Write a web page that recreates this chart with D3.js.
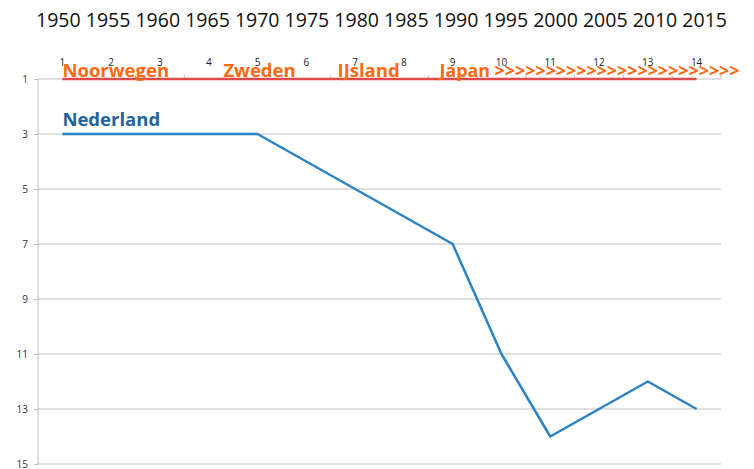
<!doctype html>
<html>
  <head>
    <script src="https://cdnjs.cloudflare.com/ajax/libs/d3/7.8.5/d3.min.js"></script>
    <style>
      body { margin: 0; background: #fff; }
      svg { display: block; }
      .grid line { stroke: #bfbfbf; stroke-width: 1; }
      .axis path, .axis line { stroke: #bfbfbf; }
      .axis text { font-family: "Open Sans", sans-serif; font-size: 10px; fill: #333; }
      .years { font-family: "Open Sans", sans-serif; font-size: 19.5px; fill: #111; }
      .catnum { font-family: "Open Sans", sans-serif; font-size: 10px; fill: #222; }
      .country { font-family: "Open Sans", sans-serif; font-weight: bold; font-size: 18.5px; fill: #ff6a10; }
      .series-label { font-family: "Open Sans", sans-serif; font-weight: bold; font-size: 18.5px; fill: #1f64a0; }
    </style>
  </head>
  <body>
    <svg width="754" height="469"></svg>
    <script>
      // category numbers along the top axis
      var categories = [1, 2, 3, 4, 5, 6, 7, 8, 9, 10, 11, 12, 13, 14];
      // year labels typed above the chart
      var years = [1950, 1955, 1960, 1965, 1970, 1975, 1980, 1985, 1990, 1995, 2000, 2005, 2010, 2015];
      // ranking of the Netherlands
      var nederland = [3, 3, 3, 3, 3, 4, 5, 6, 7, 11, 14, 13, 12, 13];
      // number-one country (always rank 1)
      var leader = [1, 1, 1, 1, 1, 1, 1, 1, 1, 1, 1, 1, 1, 1];
      // country names and the category where each starts
      var countryNames = ["Noorwegen", "Zweden", "IJsland", "Japan >>>>>>>>>>>>>>>>>>>>>>>>"];
      var countryStart = [1, 4.3, 6.64, 8.73];
      var yTicks = [1, 3, 5, 7, 9, 11, 13, 15];

      var svg = d3.select("svg");
      var mLeft = 38, mRight = 721, mTop = 79, mBottom = 464;

      var x = d3.scaleBand().domain(categories).range([mLeft, mRight]).padding(0);
      var xc = d => x(d) + x.bandwidth() / 2;
      var xi = d3.scaleLinear().domain([1, 14]).range([xc(1), xc(14)]);
      var y = d3.scaleLinear().domain([1, 15]).range([mTop, mBottom]);

      // years line at top
      svg.append("text")
          .attr("class", "years")
          .attr("x", 36)
          .attr("y", 27)
          .attr("textLength", 691)
          .attr("lengthAdjust", "spacing")
          .text(years.join(" "));

      // gridlines
      svg.append("g")
          .attr("class", "grid")
        .selectAll("line").data(yTicks.slice(1))
        .enter().append("line")
          .attr("x1", mLeft).attr("x2", mRight)
          .attr("y1", d => y(d)).attr("y2", d => y(d));

      // left axis
      var yAxis = svg.append("g")
          .attr("class", "axis")
          .attr("transform", "translate(" + mLeft + ",0)")
          .call(d3.axisLeft(y).tickValues(yTicks).tickSize(4).tickSizeOuter(0).tickPadding(6));
      yAxis.select(".domain").attr("d", "M0," + mTop + "V" + mBottom);

      // top category axis
      var catAxis = svg.append("g").attr("class", "axis");
      catAxis.append("line")
          .attr("x1", mLeft).attr("x2", mRight)
          .attr("y1", mTop).attr("y2", mTop);
      catAxis.selectAll("line.tick").data(categories.slice(1).concat([null]))
        .enter().append("line")
          .attr("class", "tick")
          .attr("x1", d => d === null ? mRight : x(d))
          .attr("x2", d => d === null ? mRight : x(d))
          .attr("y1", mTop).attr("y2", mTop - 4);

      svg.selectAll("text.catnum").data(categories)
        .enter().append("text")
          .attr("class", "catnum")
          .attr("x", d => xc(d))
          .attr("y", 66)
          .attr("text-anchor", "middle")
          .text(d => d);

      var line = d3.line()
          .x((d, i) => xc(categories[i]))
          .y(d => y(d));

      svg.append("path")
          .datum(leader)
          .attr("fill", "none")
          .attr("stroke", "#e04a4a")
          .attr("stroke-width", 2.5)
          .attr("d", line);

      svg.append("path")
          .datum(nederland)
          .attr("fill", "none")
          .attr("stroke", "#2c82c4")
          .attr("stroke-width", 2.5)
          .attr("stroke-linejoin", "round")
          .attr("d", line);

      var last = countryNames.length - 1;
      svg.selectAll("text.country").data(countryNames)
        .enter().append("text")
          .attr("class", "country")
          .attr("x", (d, i) => xi(countryStart[i]))
          .attr("y", 77)
          .attr("textLength", (d, i) => i === last ? 300 : null)
          .attr("lengthAdjust", "spacingAndGlyphs")
          .text(d => d);

      svg.append("text")
          .attr("class", "series-label")
          .attr("x", xc(1))
          .attr("y", y(nederland[0]) - 8)
          .text("Nederland");
    </script>
  </body>
</html>
